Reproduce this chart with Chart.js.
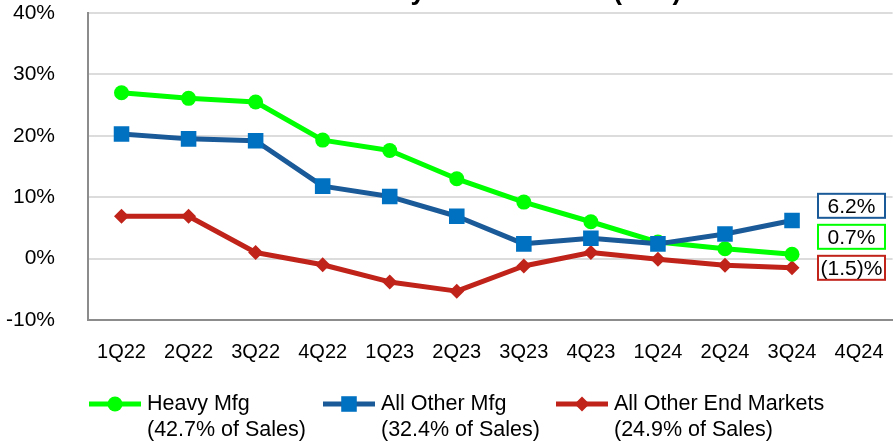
<!DOCTYPE html>
<html>
<head>
<meta charset="utf-8">
<script src="https://cdn.jsdelivr.net/npm/chart.js@4.4.1/dist/chart.umd.min.js"></script>
<style>
html, body { margin: 0; padding: 0; background: #fff; overflow: hidden; }
#wrap { width: 894px; height: 441px; overflow: hidden; }
canvas { display: block; }
</style>
</head>
<body>
<div id="wrap"><canvas id="ventas" width="904" height="441"></canvas></div>
<script>
// trimestres y crecimiento de ventas (%) por mercado
var quarters = ['1Q22', '2Q22', '3Q22', '4Q22', '1Q23', '2Q23', '3Q23', '4Q23', '1Q24', '2Q24', '3Q24', '4Q24'];
var heavyMfg = [27.0, 26.1, 25.5, 19.3, 17.6, 13.0, 9.2, 6.0, 2.7, 1.6, 0.7];
var otherMfg = [20.3, 19.5, 19.2, 11.8, 10.1, 6.9, 2.4, 3.3, 2.4, 4.0, 6.2];
var otherEnd = [6.9, 6.9, 1.0, -1.0, -3.8, -5.3, -1.2, 1.0, -0.1, -1.1, -1.5];
var seriesNames = ['Heavy Mfg', 'All Other Mfg', 'All Other End Markets'];
var salesShare = ['42.7%', '32.4%', '24.9%'];
var yTicks = [40, 30, 20, 10, 0, -10];

var FONT = "Arial, 'Liberation Sans', sans-serif";

function pct(v) {
    return v < 0 ? '(' + Math.abs(v).toFixed(1) + ')%' : v.toFixed(1) + '%';
}

// titulo (queda cortado arriba)
var tituloPlugin = {
    id: 'titulo',
    afterDraw: function(chart) {
        var ctx = chart.ctx;
        ctx.save();
        ctx.fillStyle = '#000';
        ctx.font = 'bold 27px ' + FONT;
        ctx.textBaseline = 'alphabetic';
        var a = 'Sales by End Market';
        var wB = ctx.measureText('Sales b').width;
        var wY = ctx.measureText('y').width;
        ctx.fillText(a, 418 - wB - wY / 2, -1.5);
        ctx.fillText('(YoY)', 613, -1.5);
        ctx.restore();
    }
};

// cajas con el ultimo valor de cada serie, apiladas desde la serie mas baja
var valoresPlugin = {
    id: 'valores',
    afterDatasetsDraw: function(chart) {
        var ctx = chart.ctx;
        var ys = chart.scales.y;
        var ds = chart.data.datasets;
        var base = ys.getPixelForValue(ds[2].data[ds[2].data.length - 1]);
        var slot = [1, 2, 0];
        ctx.save();
        ctx.font = '21px ' + FONT;
        ctx.textAlign = 'center';
        ctx.textBaseline = 'middle';
        ds.forEach(function(d, i) {
            var v = d.data[d.data.length - 1];
            var cy = base - slot[i] * 31;
            ctx.fillStyle = '#fff';
            ctx.fillRect(818, cy - 12, 67, 24);
            ctx.lineWidth = 2;
            ctx.strokeStyle = d.boxColor;
            ctx.strokeRect(818, cy - 12, 67, 24);
            ctx.fillStyle = '#000';
            ctx.fillText(pct(v), 851.5, cy + 1);
        });
        ctx.restore();
    }
};

// leyenda en dos lineas
var leyendaPlugin = {
    id: 'leyenda',
    afterDraw: function(chart) {
        var ctx = chart.ctx;
        var xs = [89, 323, 556];
        ctx.save();
        chart.data.datasets.forEach(function(d, i) {
            var x = xs[i], y = 404;
            ctx.strokeStyle = d.borderColor;
            ctx.lineWidth = 5;
            ctx.beginPath();
            ctx.moveTo(x, y);
            ctx.lineTo(x + 52, y);
            ctx.stroke();
            ctx.fillStyle = d.pointBackgroundColor;
            Chart.helpers.drawPoint(ctx, {
                pointStyle: d.pointStyle, radius: d.pointRadius, rotation: 0, borderWidth: 0
            }, x + 26, y);
            ctx.fillStyle = '#000';
            ctx.font = '21.5px ' + FONT;
            ctx.textAlign = 'left';
            ctx.textBaseline = 'middle';
            ctx.fillText(d.label, x + 58, y);
            ctx.fillText('(' + salesShare[i] + ' of Sales)', x + 58, y + 26);
        });
        ctx.restore();
    }
};

var ctx = document.getElementById('ventas').getContext('2d');
var chart = new Chart(ctx, {
    type: 'line',
    data: {
        labels: quarters,
        datasets: [{
            label: seriesNames[0],
            data: heavyMfg,
            borderColor: '#00ff00',
            boxColor: '#00ff00',
            pointBackgroundColor: '#00ff00',
            pointBorderColor: '#00ff00',
            pointStyle: 'circle',
            pointRadius: 7.5,
            order: 2
        }, {
            label: seriesNames[1],
            data: otherMfg,
            borderColor: '#1a5a98',
            boxColor: '#1a5a98',
            pointBackgroundColor: '#0070c0',
            pointBorderColor: '#0070c0',
            pointStyle: 'rect',
            pointRadius: 11,
            order: 1
        }, {
            label: seriesNames[2],
            data: otherEnd,
            borderColor: '#c0231a',
            boxColor: '#c0231a',
            pointBackgroundColor: '#c0231a',
            pointBorderColor: '#c0231a',
            pointStyle: 'rectRot',
            pointRadius: 7.5,
            order: 3
        }]
    },
    options: {
        responsive: false,
        animation: false,
        devicePixelRatio: 1,
        layout: { padding: { top: 13, right: 0, left: 0, bottom: 0 } },
        elements: {
            line: { borderWidth: 5, tension: 0, borderCapStyle: 'round', borderJoinStyle: 'round' },
            point: { borderWidth: 0, hoverRadius: 8 }
        },
        plugins: {
            legend: { display: false },
            tooltip: { enabled: false },
            title: { display: false }
        },
        scales: {
            x: {
                offset: true,
                grid: { display: false, drawTicks: false },
                border: { display: true, color: '#8c8c8c', width: 2 },
                ticks: {
                    color: '#000',
                    font: { family: FONT, size: 20 },
                    padding: 20,
                    maxRotation: 0,
                    autoSkip: false
                },
                afterFit: function(s) { s.height = 121; }
            },
            y: {
                min: -10,
                max: 40,
                afterBuildTicks: function(s) {
                    s.ticks = yTicks.map(function(v) { return { value: v }; });
                },
                grid: { color: '#dcdcdc', lineWidth: 2, drawTicks: false },
                border: { display: true, color: '#8c8c8c', width: 2 },
                ticks: {
                    color: '#000',
                    font: { family: FONT, size: 21 },
                    padding: 33,
                    callback: function(v) { return v + '%'; }
                },
                afterFit: function(s) {
                    s.width = 88;
                    s.paddingTop = 0;
                    s.paddingBottom = 0;
                }
            }
        }
    },
    plugins: [tituloPlugin, valoresPlugin, leyendaPlugin]
});
</script>
</body>
</html>
